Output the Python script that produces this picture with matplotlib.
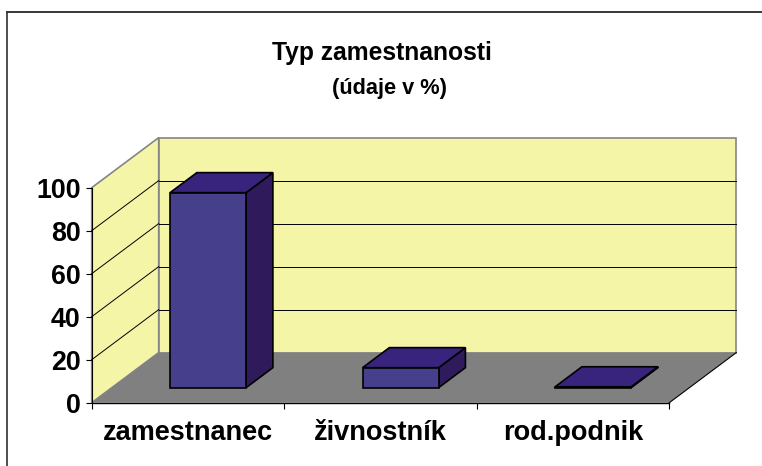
import matplotlib.pyplot as plt
from matplotlib.lines import Line2D
from matplotlib.patches import Polygon

plt.rcParams['font.family'] = ['Liberation Sans', 'DejaVu Sans']
plt.rcParams['font.weight'] = 'bold'

# data
categories = ['zamestnanec', 'živnostník', 'rod.podnik']
values = [90.7, 9.3, 0.4]
yticks = [0, 20, 40, 60, 80, 100]

W, H = 762, 466
# 3d depth of the chart box in axis units
DX = 0.348
DY = 23.3
BAR_W = 0.395
D0, D1 = 0.3, 0.7


def proj(x, v, d=0.0):
    return (x + d * DX, v + d * DY)


def poly(ax, pts, fc, ec, lw=1.0, z=2):
    ax.add_patch(Polygon(pts, closed=True, facecolor=fc, edgecolor=ec, linewidth=lw,
                         zorder=z, clip_on=False, joinstyle='miter'))


fig = plt.figure(figsize=(W / 100, H / 100), dpi=100)
# only the top and left edge of the chart frame are in the picture
fig.add_artist(Line2D([6.5 / W, 1], [1 - 12.3 / H, 1 - 12.3 / H], color='black', lw=1.1))
fig.add_artist(Line2D([6.5 / W, 6.5 / W], [1 - 12.3 / H, 0], color='#303030', lw=1.2))

ax = fig.add_axes([91.7 / W, 1 - 402.7 / H, 577.6 / W, 215 / H])
ax.patch.set_visible(False)
ax.set_xlim(0, 3)
ax.set_ylim(0, 100)
for s in ['top', 'right']:
    ax.spines[s].set_visible(False)
ax.spines['left'].set_linewidth(0.8)
ax.spines['bottom'].set_linewidth(1.0)

wall = '#F5F5A8'
edge = '#858585'
# side wall, back wall, floor
poly(ax, [proj(0, 0), proj(0, 100), proj(0, 100, 1), proj(0, 0, 1)], wall, edge, 1.2, 1)
poly(ax, [proj(0, 0, 1), proj(0, 100, 1), proj(3, 100, 1), proj(3, 0, 1)], wall, edge, 1.2, 1)
poly(ax, [proj(0, 0), proj(3, 0), proj(3, 0, 1), proj(0, 0, 1)], '#808080', 'none', 0, 1)
ax.plot(*zip(proj(3, 0), proj(3, 0, 1)), color='black', lw=0.8, zorder=1.5, clip_on=False)

# gridlines on the walls
for t in yticks[1:]:
    if t < 100:
        ax.plot(*zip(proj(0, t), proj(0, t, 1)), color='black', lw=0.7, zorder=1.5, clip_on=False)
        ax.plot(*zip(proj(0, t, 1), proj(3, t, 1)), color='black', lw=0.7, zorder=1.5, clip_on=False)

# bars
for i, v in enumerate(values):
    x0 = i + 0.5 - BAR_W / 2
    x1 = i + 0.5 + BAR_W / 2
    poly(ax, [proj(x1, 0, D0), proj(x1, 0, D1), proj(x1, v, D1), proj(x1, v, D0)], '#2F1A5C', 'black', 1.2, 3)
    poly(ax, [proj(x0, v, D0), proj(x1, v, D0), proj(x1, v, D1), proj(x0, v, D1)], '#38247C', 'black', 1.2, 3)
    poly(ax, [proj(x0, 0, D0), proj(x1, 0, D0), proj(x1, v, D0), proj(x0, v, D0)], '#46408C', 'black', 1.2, 3)

ax.set_yticks(yticks)
ax.set_xticks([0, 1, 2, 3])
ax.set_xticklabels([])
ax.set_xticks([0.5, 1.5, 2.5], minor=True)
ax.set_xticklabels(categories, minor=True, fontsize=19.5, fontweight='bold')
ax.tick_params(axis='x', which='minor', length=0, pad=12.5)
ax.tick_params(axis='x', which='major', length=4, width=0.8)
ax.tick_params(axis='y', length=4, width=0.8, labelsize=19.3, pad=4)

fig.text(382 / W, 1 - 53 / H, 'Typ zamestnanosti', ha='center', va='center', fontsize=17.7, fontweight='bold')
fig.text(389.5 / W, 1 - 88.5 / H, '(údaje v %)', ha='center', va='center', fontsize=15.7, fontweight='bold')

fig.savefig('out.png', dpi=100)
